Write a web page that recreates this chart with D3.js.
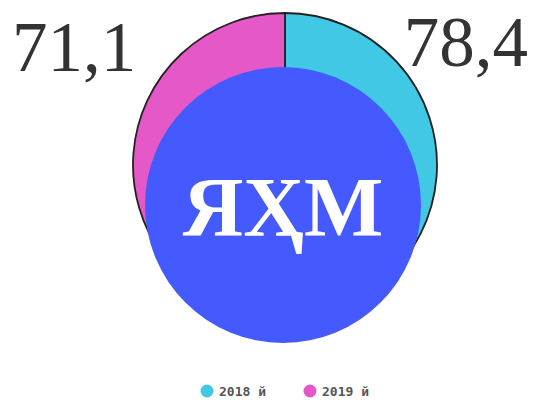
<!DOCTYPE html>
<html>
<head>
<meta charset="utf-8">
<script src="https://cdn.jsdelivr.net/npm/d3@7"></script>
<style>
	body { margin: 0; background: #fff; }
</style>
</head>
<body>
<svg id="chart" width="536" height="401"></svg>
<script>
"use strict";

// Data
var years = ["2018 й", "2019 й"];
var values = [78.4, 71.1];
var labels = ["78,4", "71,1"];
var colors = ["#41c8e4", "#e558c8"];
var centerText = "ЯҲМ";

var svg = d3.select("#chart");

var cx = 285, cy = 165, radius = 152;

var pie = d3.pie().sort(null).value(function(d) { return d; });
var arc = d3.arc().innerRadius(0).outerRadius(radius);

var g = svg.append("g").attr("transform", "translate(" + cx + "," + cy + ")");

// slices
g.selectAll("path")
	.data(pie(values))
	.enter()
	.append("path")
	.attr("d", arc)
	.style("fill", function(d, i) { return colors[i]; })
	.style("stroke", "#222")
	.style("stroke-width", 1.8);

// blue disc on top
svg.append("circle")
	.attr("cx", 283)
	.attr("cy", 205)
	.attr("r", 138)
	.style("fill", "#4459fe");

svg.append("text")
	.attr("x", 283)
	.attr("y", 236)
	.attr("text-anchor", "middle")
	.style("font-family", "'Liberation Serif', 'DejaVu Serif', serif")
	.style("font-weight", "bold")
	.style("font-size", "84px")
	.style("fill", "#fff")
	.text(centerText);

// value labels
svg.append("text")
	.attr("x", 528)
	.attr("y", 66)
	.attr("text-anchor", "end")
	.style("font-family", "'Liberation Serif', serif")
	.style("font-size", "71px")
	.style("fill", "#333")
	.text(labels[0]);

svg.append("text")
	.attr("x", 12)
	.attr("y", 71)
	.attr("text-anchor", "start")
	.style("font-family", "'Liberation Serif', serif")
	.style("font-size", "71px")
	.style("fill", "#333")
	.text(labels[1]);

// legend
var legend = svg.append("g").attr("transform", "translate(0,391)");
var item = legend.selectAll("g")
	.data(years)
	.enter()
	.append("g")
	.attr("transform", function(d, i) { return "translate(" + (207 + i * 103) + ",0)"; });

item.append("circle")
	.attr("r", 6.5)
	.style("fill", function(d, i) { return colors[i]; });

item.append("text")
	.attr("x", 12)
	.attr("y", 5)
	.style("font-family", "'DejaVu Sans Mono', monospace")
	.style("font-weight", "bold")
	.style("font-size", "13px")
	.style("fill", "#555")
	.text(function(d) { return d; });
</script>
</body>
</html>
